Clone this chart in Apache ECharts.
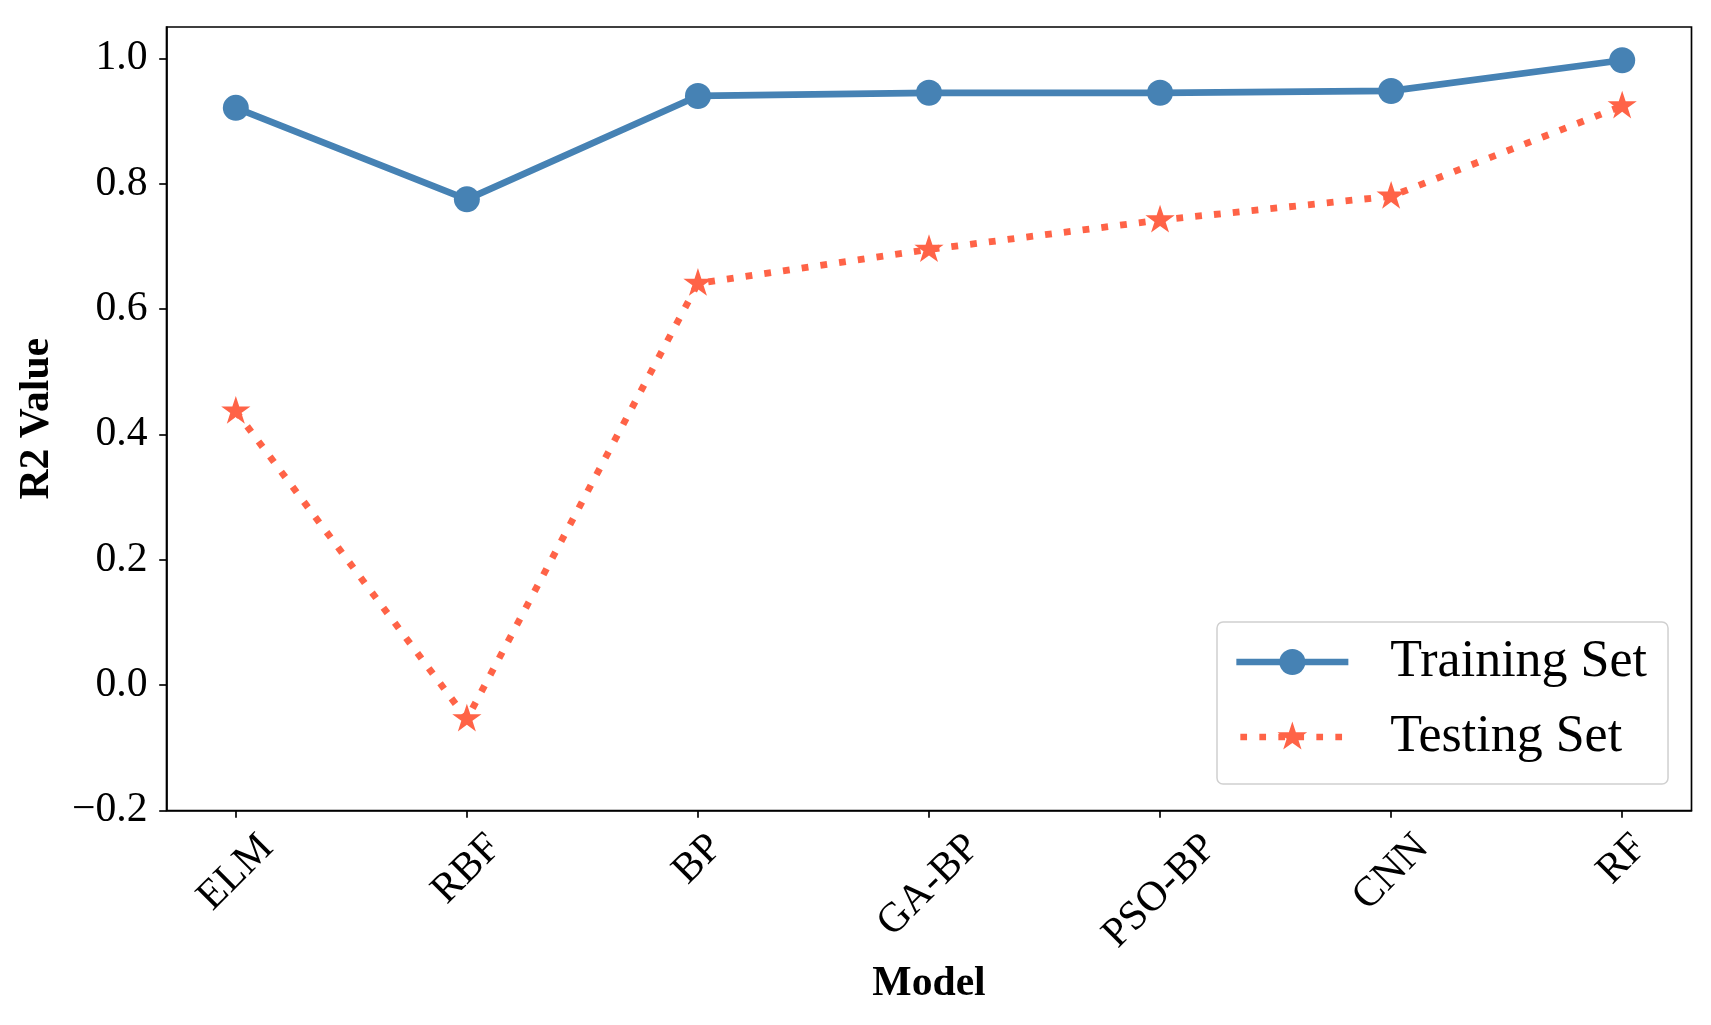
<!DOCTYPE html>
<html><head><meta charset="utf-8">
<script src="https://cdn.jsdelivr.net/npm/echarts@6/dist/echarts.min.js"></script>
<style>html,body{margin:0;padding:0;background:#fff}#c{width:1711px;height:1025px}</style>
</head><body><div id="c"></div>
<script>
const categories = ['ELM', 'RBF', 'BP', 'GA-BP', 'PSO-BP', 'CNN', 'RF'];
const trainingValues = [0.921, 0.775, 0.940, 0.945, 0.945, 0.948, 0.997];
const testingValues = [0.437, -0.054, 0.641, 0.695, 0.742, 0.780, 0.924];
const yTickValues = [-0.2, 0.0, 0.2, 0.4, 0.6, 0.8, 1.0];
const seriesNames = ['Training Set', 'Testing Set'];
const xAxisTitle = 'Model';
const yAxisTitle = 'R2 Value';

const FONT = '"Liberation Serif", "Times New Roman", serif';
const TICK_FS = 41.67;
const xTickValues = categories.map((_, i) => i);

// per-label padding so that rotated labels are centred under their ticks (matplotlib style)
const ctx = document.createElement('canvas').getContext('2d');
ctx.font = TICK_FS + 'px "Liberation Serif"';
const rich = {};
categories.forEach((c, i) => {
  const w = ctx.measureText(c).width;
  rich['l' + i] = {fontFamily: FONT, fontSize: TICK_FS, color: '#000', padding: [w / 2, w / 2, 0, 0]};
});

function starPath(cx, cy, R) {
  let d = '';
  for (let k = 0; k < 10; k++) {
    const a = (-90 + 36 * k) * Math.PI / 180;
    const r = k % 2 ? R * 0.381966 : R;
    d += (k ? ' L' : 'M') + (cx + r * Math.cos(a)).toFixed(3) + ',' + (cy + r * Math.sin(a)).toFixed(3);
  }
  return d + ' Z';
}
const STAR = 'path://' + starPath(50, 50, 50);

// legend icon for the dotted series: dots + star in a 112 x 32.5 box
const LW = 112, LH = 32.5;
let legendTest = 'M0,0 L0.01,0 L0,0.01 Z M' + LW + ',' + LH + ' L' + (LW - 0.01) + ',' + LH + ' L' + LW + ',' + (LH - 0.01) + ' Z';
for (let k = 0; k < 6; k++) {
  const x0 = 4 + 19 * k, x1 = x0 + 6.7, y0 = LH / 2 - 3.35, y1 = LH / 2 + 3.35;
  legendTest += ` M${x0},${y0} L${x1},${y0} L${x1},${y1} L${x0},${y1} Z`;
}
legendTest += ' ' + starPath(LW / 2, LH / 2, 15.6);

const BLUE = '#4682B4', RED = '#FF6347';

const chart = echarts.init(document.getElementById('c'), null, {renderer: 'canvas'});
chart.setOption({
  animation: false,
  backgroundColor: '#fff',
  grid: {left: 166.5, right: 19.5, top: 27, bottom: 214.5, show: true, borderColor: '#000', borderWidth: 1.67, backgroundColor: 'transparent'},
  xAxis: {
    type: 'value', min: -0.3, max: 6.3,
    name: xAxisTitle, nameLocation: 'middle', nameGap: 145,
    nameTextStyle: {fontFamily: FONT, fontSize: 41.67, fontWeight: 'bold', color: '#000'},
    axisLine: {show: true, onZero: false, lineStyle: {color: '#000', width: 1.67}},
    axisTick: {show: true, length: 7.3, lineStyle: {color: '#000', width: 1.67}, customValues: xTickValues},
    axisLabel: {
      customValues: xTickValues, rotate: 45, margin: 31, align: 'center', verticalAlign: 'middle',
      fontFamily: FONT, fontSize: TICK_FS, color: '#000',
      formatter: v => '{l' + Math.round(v) + '|' + categories[Math.round(v)] + '}',
      rich: rich
    },
    splitLine: {show: false}
  },
  yAxis: {
    type: 'value', min: -0.2, max: 1.05,
    name: yAxisTitle, nameLocation: 'middle', nameGap: 108,
    nameTextStyle: {fontFamily: FONT, fontSize: 41.67, fontWeight: 'bold', color: '#000'},
    axisLine: {show: true, onZero: false, lineStyle: {color: '#000', width: 1.67}},
    axisTick: {show: true, length: 7.3, lineStyle: {color: '#000', width: 1.67}, customValues: yTickValues},
    axisLabel: {
      customValues: yTickValues, margin: 19, fontFamily: FONT, fontSize: TICK_FS, color: '#000',
      formatter: v => (v < 0 ? '\u2212' : '') + Math.abs(v).toFixed(1)
    },
    splitLine: {show: false}
  },
  legend: {
    left: 1217, top: 622, orient: 'vertical', align: 'left',
    padding: [8, 21, 15, 16], itemGap: 11, itemWidth: LW, itemHeight: LH,
    backgroundColor: 'rgba(255,255,255,0.8)', borderColor: '#d0d0d0', borderWidth: 1.5, borderRadius: 6,
    lineStyle: {width: 6.7},
    textStyle: {fontFamily: FONT, fontSize: 52, color: '#000', lineHeight: 64, padding: [0, 0, 0, 37]},
    data: [
      {name: seriesNames[0], itemStyle: {borderWidth: 0}},
      {name: seriesNames[1], icon: 'path://' + legendTest, itemStyle: {borderWidth: 0}}
    ]
  },
  series: [
    {
      name: seriesNames[0], type: 'line',
      data: trainingValues.map((v, i) => [i, v]),
      symbol: 'circle', symbolSize: 26,
      lineStyle: {color: BLUE, width: 6.7},
      itemStyle: {color: BLUE, borderWidth: 0},
      z: 3
    },
    {
      name: seriesNames[1], type: 'line',
      data: testingValues.map((v, i) => [i, v]),
      symbol: STAR, symbolSize: [29.2, 27.8], symbolOffset: [0, -1.45],
      lineStyle: {color: RED, width: 6.8, type: [6.8, 12.1], cap: 'butt'},
      itemStyle: {color: RED, borderWidth: 0},
      z: 2
    }
  ]
});
</script></body></html>
